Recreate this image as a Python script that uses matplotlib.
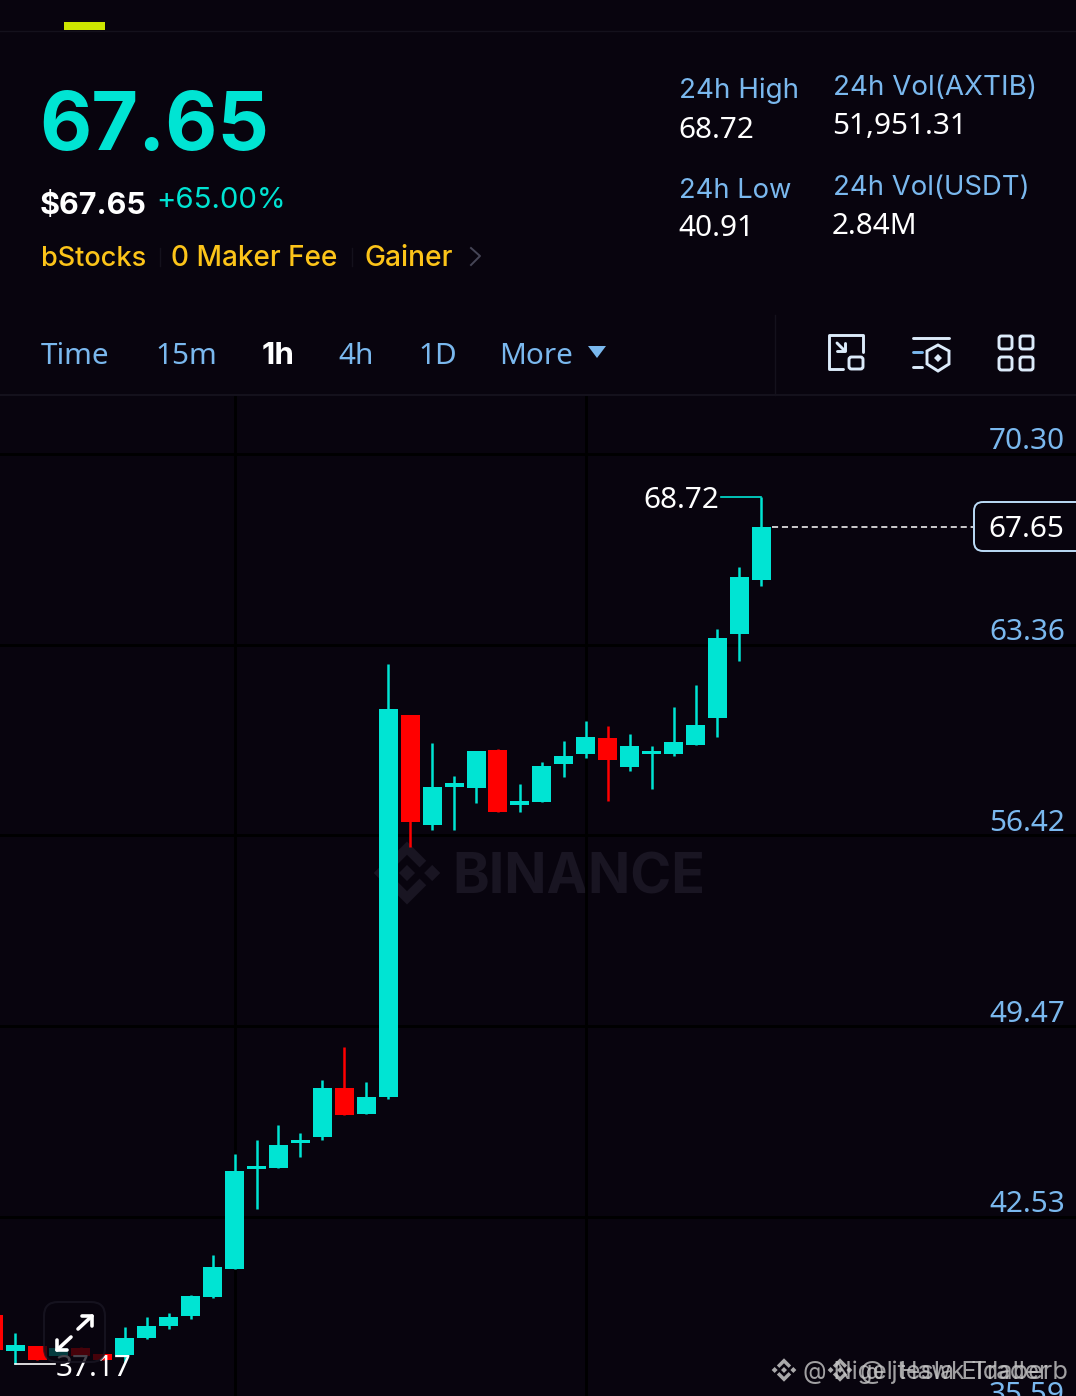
import matplotlib
matplotlib.use("Agg")
import matplotlib.pyplot as plt
from matplotlib.patches import FancyBboxPatch, Polygon, Rectangle

plt.rcParams['font.family'] = ['Inter', 'DejaVu Sans']

# hourly candles
opens = [38.96, 37.65, 37.83, 37.46, 37.76, 37.54, 37.50, 38.12, 38.56, 38.92, 39.61, 40.63,
         44.27, 44.31, 45.22, 45.44, 47.22, 46.27, 46.89, 60.80, 56.79, 58.18, 58.14, 59.52,
         57.52, 57.63, 59.01, 59.38, 59.96, 58.91, 59.38, 59.38, 59.71, 60.69, 63.75, 65.71]
highs = [38.96, 38.30, 37.83, 37.76, 37.80, 37.54, 38.52, 38.88, 39.03, 39.67, 41.14, 44.82,
         45.33, 45.87, 45.58, 47.51, 48.71, 47.44, 62.66, 60.80, 59.78, 58.58, 59.49, 59.56,
         58.29, 59.09, 59.85, 60.58, 60.40, 60.11, 59.67, 61.09, 61.89, 63.93, 66.19, 68.72]
lows = [37.68, 37.17, 37.32, 37.46, 37.46, 37.32, 37.25, 38.08, 38.45, 38.81, 39.57, 40.63,
        42.82, 44.31, 44.71, 45.33, 46.24, 46.27, 46.82, 55.99, 56.61, 56.61, 57.60, 57.27,
        57.27, 57.63, 58.54, 59.23, 57.67, 58.76, 58.10, 59.31, 59.71, 60.00, 62.76, 65.49]
closes = [37.68, 37.86, 37.32, 37.76, 37.46, 37.32, 38.12, 38.56, 38.88, 39.65, 40.70, 44.20,
          44.38, 45.15, 45.33, 47.22, 46.24, 46.89, 61.02, 56.90, 58.18, 58.32, 59.49, 57.27,
          57.67, 58.94, 59.31, 60.00, 59.16, 59.67, 59.49, 59.82, 60.43, 63.60, 65.82, 67.65]
price_levels = [70.30, 63.36, 56.42, 49.47, 42.53, 35.59]
price_labels = ['70.30', '63.36', '56.42', '49.47', '42.53', '35.59']
time_tabs = ['Time', '15m', '1h', '4h', '1D', 'More']
tab_x = [41, 155, 262, 338, 418, 499]
last_price = 67.65
high_price = 68.72
low_price = 37.17

BG = '#08040e'
TEAL = '#00e4d3'
RED = '#ff0000'
BLUE = '#7ab8ee'
YELLOW = '#fcc419'
ICON = '#dcebfa'
NUM_FONT = ['Noto Sans', 'DejaVu Sans']

W, H = 1076, 1396
fig = plt.figure(figsize=(W / 100, H / 100), dpi=100, facecolor=BG)


def px_axes(zorder):
    a = fig.add_axes([0, 0, 1, 1], zorder=zorder)
    a.set_xlim(0, W)
    a.set_ylim(H, 0)
    a.axis('off')
    a.patch.set_alpha(0)
    return a


back = px_axes(0)
ui = px_axes(3)

# chart axes, from the tab bar to the bottom edge
chart_top = 396
ax = fig.add_axes([0, 0, 1, (H - chart_top) / H], zorder=1)
ax.patch.set_alpha(0)
ax.set_xlim(6.9 / 21.95, (W + 6.9) / 21.95)
px_per_unit = 27.47
ax.set_ylim(70.30 - (H - 454) / px_per_unit, 70.30 + (454 - chart_top) / px_per_unit)
for s in ax.spines.values():
    s.set_visible(False)
ax.set_xticks([])
ax.set_yticks([])

# grid
for lv in price_levels:
    ax.axhline(lv, color='#000000', lw=2, zorder=1)
for i in [11, 27]:
    ax.axvline(i, color='#000000', lw=2, zorder=1)

# candles
xs = list(range(len(opens)))
colors = [TEAL if c >= o else RED for o, c in zip(opens, closes)]
ax.vlines(xs, lows, highs, colors=colors, lw=1.8, zorder=2)
bottoms = [min(o, c) for o, c in zip(opens, closes)]
heights = [abs(c - o) for o, c in zip(opens, closes)]
ax.bar(xs, heights, bottom=bottoms, width=19 / 21.95, color=colors, zorder=3)

# price labels on the right
for lv, lab in zip(price_levels, price_labels):
    ax.annotate(lab, xy=(1, lv), xycoords=('axes fraction', 'data'), xytext=(-11, 12),
                textcoords='offset pixels', ha='right', va='center', color=BLUE, fontsize=21.4,
                family=NUM_FONT, annotation_clip=False, zorder=5)

# last price line and box
ax.plot([35.47, 44.63], [last_price, last_price], color='white', lw=1.1, ls=(0, (4, 2.5)), zorder=4)
ax.annotate(f'{last_price:.2f}', xy=(1, last_price), xycoords=('axes fraction', 'data'),
            xytext=(-12, -3), textcoords='offset pixels', ha='right', va='center',
            color='white', fontsize=21.4, family=NUM_FONT, zorder=6)
ui.add_patch(FancyBboxPatch((974, 502), 120, 49, boxstyle='round,pad=0,rounding_size=9',
                            fc='none', ec='#bcdcf8', lw=1.4))

# high and low marks
ax.plot([33.15, 35], [high_price, high_price], color=TEAL, lw=1.2, zorder=4)
ax.annotate(f'{high_price:.2f}', xy=(33.15, high_price), xytext=(-2, -3), textcoords='offset pixels',
            ha='right', va='center', color='white', fontsize=21.4, family=NUM_FONT, zorder=5)
ax.plot([1, 2.8], [low_price, low_price], color='white', lw=1.2, zorder=4)
ax.annotate(f'{low_price:.2f}', xy=(2.8, low_price), xytext=(1, -4), textcoords='offset pixels',
            ha='left', va='center', color='white', fontsize=21.4, family=NUM_FONT, zorder=5,
            annotation_clip=False)

# faint BINANCE watermark behind the candles
WM = '#191522'
back.text(452, 878, 'BINANCE', color=WM, fontsize=40, fontweight='bold', va='center', ha='left')


def diamond(a, cx, cy, r, **kw):
    a.add_patch(Polygon([(cx - r, cy), (cx, cy - r), (cx + r, cy), (cx, cy + r)], closed=True, **kw))


def binance_logo(a, cx, cy, s, color, alpha=1.0):
    # s is half the width of the logo
    diamond(a, cx, cy, s * 0.23, fc=color, ec='none', alpha=alpha)
    diamond(a, cx - s * 0.72, cy, s * 0.23, fc=color, ec='none', alpha=alpha)
    diamond(a, cx + s * 0.72, cy, s * 0.23, fc=color, ec='none', alpha=alpha)
    for sign in (-1, 1):
        a.add_patch(Polygon([(cx - s * 0.55, cy + sign * s * 0.35), (cx, cy + sign * s * 0.9),
                             (cx + s * 0.55, cy + sign * s * 0.35), (cx + s * 0.36, cy + sign * s * 0.16),
                             (cx, cy + sign * s * 0.52), (cx - s * 0.36, cy + sign * s * 0.16)],
                            closed=True, fc=color, ec='none', alpha=alpha))


binance_logo(back, 407, 873, 35, WM)

# header
ui.plot([0, W], [31, 31], color='#14111c', lw=1)
ui.plot([0, W], [395, 395], color='#14111c', lw=1.5)
ui.add_patch(Rectangle((64, 22), 41, 8, fc='#cde600', ec='none'))
ui.text(39, 129, '67.65', color=TEAL, fontsize=58, fontweight='bold', va='center', ha='left')
ui.text(40, 206, '$67.65', color='white', fontsize=22, fontweight='bold', va='center', ha='left')
ui.text(156, 201, '+65.00%', color=TEAL, fontsize=21.2, va='center', ha='left')
ui.text(41, 259, 'bStocks', color=YELLOW, fontsize=19.5, fontweight='medium', va='center', ha='left')
ui.text(171, 259, '0 Maker Fee', color=YELLOW, fontsize=20.1, fontweight='medium', va='center', ha='left')
ui.text(365, 259, 'Gainer', color=YELLOW, fontsize=20.3, fontweight='medium', va='center', ha='left')
ui.plot([471, 480, 471], [248, 256, 265], color='#454556', lw=1.4)
ui.plot([160, 160], [248, 266], color='#14111c', lw=1)
ui.plot([352, 352], [248, 266], color='#14111c', lw=1)

ui.text(679, 91, '24h High', color=BLUE, fontsize=20, va='center', ha='left')
ui.text(678, 130, '68.72', color='white', fontsize=21.4, family=NUM_FONT, va='center', ha='left')
ui.text(679, 191, '24h Low', color=BLUE, fontsize=19.7, va='center', ha='left')
ui.text(678, 229, '40.91', color='white', fontsize=21.4, family=NUM_FONT, va='center', ha='left')
ui.text(833, 88, '24h Vol(AXTIB)', color=BLUE, fontsize=20, va='center', ha='left')
ui.text(832, 127, '51,951.31', color='white', fontsize=21.4, family=NUM_FONT, va='center', ha='left')
ui.text(833, 188, '24h Vol(USDT)', color=BLUE, fontsize=19.8, va='center', ha='left')
ui.text(832, 226, '2.84M', color='white', fontsize=21.4, family=NUM_FONT, va='center', ha='left')

# time tabs
for x, tab in zip(tab_x, time_tabs):
    if tab == '1h':
        ui.text(x, 356, tab, color='white', fontsize=22.5, fontweight='bold', va='center', ha='left')
    else:
        ui.text(x, 356, tab, color=BLUE, fontsize=21.4, family=NUM_FONT, va='center', ha='left')
ui.add_patch(Polygon([(588, 346), (606, 346), (597, 358)], closed=True, fc=BLUE, ec='none'))
ui.plot([775, 775], [315, 395], color='#14111c', lw=1)


def stroke(xs_, ys_, lw=2.1, color=ICON):
    ui.plot(xs_, ys_, color=color, lw=lw, solid_capstyle='round', solid_joinstyle='round')


def round_box(x, y, w, h):
    ui.add_patch(FancyBboxPatch((x, y), w, h, boxstyle='round,pad=0,rounding_size=2.5',
                                fc='none', ec=ICON, lw=2.1))


# toolbar icons
stroke([843, 829, 829, 863, 863], [369, 369, 335, 335, 352])
round_box(849, 357, 14, 12)
stroke([837, 845], [343, 351])
stroke([837, 845, 845], [351, 351, 343], lw=2.1)
stroke([913, 949], [338, 338])
stroke([913, 922], [352, 352], color=BLUE)
stroke([913, 922], [367, 367])
ui.add_patch(Polygon([(938, 345), (949, 351), (949, 364), (938, 371), (927, 364), (927, 351)],
                     closed=True, fc='none', ec=ICON, lw=2.1))
diamond(ui, 938, 358, 4, fc=ICON, ec='none')
for bx in (999, 1020):
    for by in (336, 357):
        round_box(bx, by, 13, 13)

# expand button over the low end of the chart
ui.add_patch(FancyBboxPatch((44, 1302), 61, 60, boxstyle='round,pad=0,rounding_size=14',
                            fc=BG, ec='#1a1724', lw=1.5, alpha=0.75))
stroke([78, 92], [1329, 1316], lw=2.6, color='white')
stroke([82, 92, 92], [1316, 1316, 1326], lw=2.6, color='white')
stroke([57, 71], [1350, 1337], lw=2.6, color='white')
stroke([57, 57, 67], [1340, 1350, 1350], lw=2.6, color='white')

# overlapping source watermarks, bottom right
binance_logo(ui, 784, 1370, 13, '#c8c8c8', alpha=0.85)
ui.text(803, 1372, '@ Nigel Hawk Trader', color='#c8c8c8', fontsize=17.5, va='center', ha='left', alpha=0.8)
binance_logo(ui, 840, 1370, 13, '#c8c8c8', alpha=0.85)
ui.text(860, 1372, '@ jtesla Eldaberb', color='#c8c8c8', fontsize=18.2, va='center', ha='left', alpha=0.8)

fig.savefig('out.png', dpi=100, facecolor=BG)
